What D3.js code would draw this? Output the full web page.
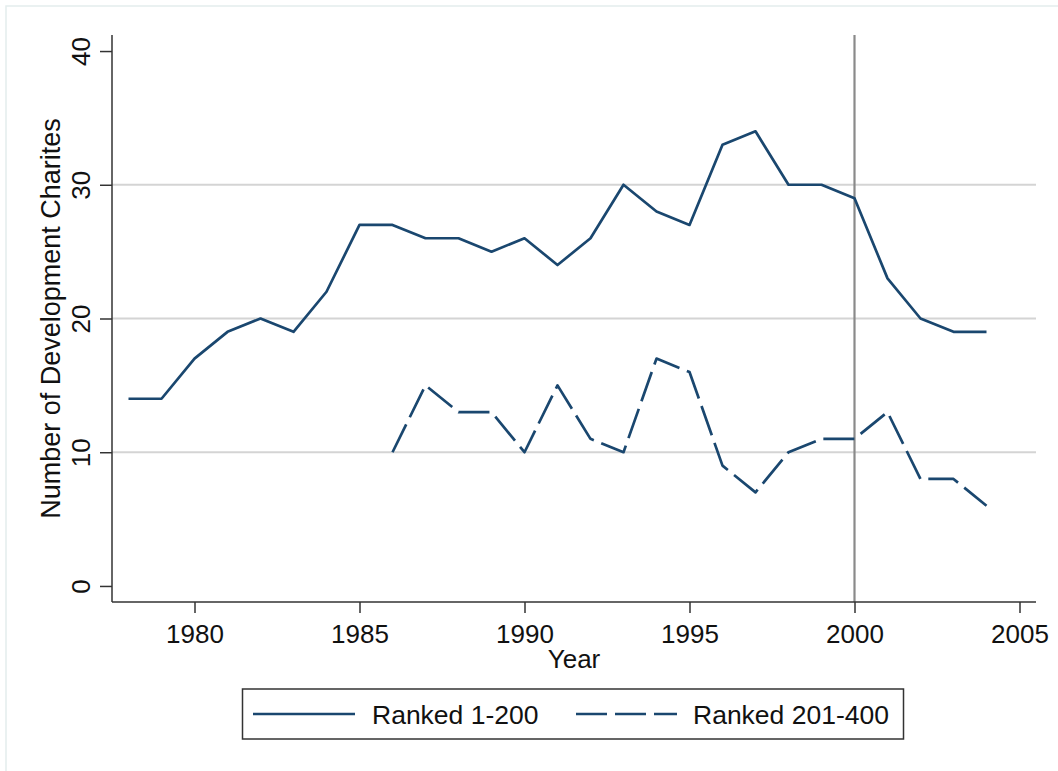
<!DOCTYPE html>
<meta charset="utf-8">
<title>Development charities by year</title>
<style>
  body { margin: 0; background: #fff; }
  svg { display: block; font-family: "Liberation Sans", Arial, Helvetica, sans-serif; }
  .grid line { stroke: #d4d4d4; stroke-width: 2px; }
  .axis path, .axis line { stroke: #333; stroke-width: 1.5px; }
  .axis text { font-size: 26px; fill: #111; }
  .series { fill: none; stroke: #1a476f; stroke-width: 2.7px; stroke-linejoin: round; }
</style>
<body>
<svg width="1058" height="771"></svg>
<script src="https://cdn.jsdelivr.net/npm/d3@7"></script>
<script>
    // values
    const years = d3.range(1978, 2005);
    const top200 = [14,14,17,19,20,19,22,27,27,26,26,25,26,24,26,30,28,27,33,34,30,30,29,23,20,19,19];
    const years201 = d3.range(1986, 2005);
    const top400 = [10,15,13,13,10,15,11,10,17,16,9,7,10,11,11,13,8,8,6];
    const yTicks = [0, 10, 20, 30, 40];
    const xTicks = [1980, 1985, 1990, 1995, 2000, 2005];
    const gridVals = [10, 20, 30];
    const markYear = 2000;
    const seriesNames = ['Ranked 1-200', 'Ranked 201-400'];

    const svg = d3.select('svg');

    const x = d3.scaleLinear().domain([1977.5, 2005.5]).range([112, 1036]);
    const y = d3.scaleLinear().domain([-1.2, 41.2]).range([602, 35]);

    // faint outer frame (top and left edge only, as in the picture)
    svg.append('path')
        .attr('d', 'M6,771V6H1058')
        .attr('fill', 'none')
        .attr('stroke', '#e4eded')
        .attr('stroke-width', 1.5);

    svg.append('g').attr('class', 'grid')
        .selectAll('line')
        .data(gridVals)
        .enter().append('line')
        .attr('x1', x.range()[0]).attr('x2', x.range()[1])
        .attr('y1', d => y(d)).attr('y2', d => y(d));

    // reference line at 2000
    svg.append('line')
        .attr('x1', x(markYear)).attr('x2', x(markYear))
        .attr('y1', y.range()[1]).attr('y2', y.range()[0])
        .attr('stroke', '#8a8a8a')
        .attr('stroke-width', 2.2);

    const line = d3.line().x(d => x(d[0])).y(d => y(d[1]));

    svg.append('path').attr('class', 'series')
        .attr('d', line(years.map((yr, i) => [yr, top200[i]])));

    svg.append('path').attr('class', 'series')
        .attr('stroke-dasharray', '31,8')
        .attr('d', line(years201.map((yr, i) => [yr, top400[i]])));

    // axes
    const yAxis = d3.axisLeft(y).tickValues(yTicks).tickSize(12).tickPadding(10);
    const gy = svg.append('g').attr('class', 'axis')
        .attr('transform', `translate(${x.range()[0]},0)`)
        .call(yAxis);
    gy.select('.domain').attr('d', `M0,${y.range()[1]}V${y.range()[0]}`);
    gy.selectAll('.tick text')
        .attr('transform', 'rotate(-90)')
        .attr('x', 0).attr('y', -22)
        .attr('dy', 0)
        .attr('text-anchor', 'middle');

    const xAxis = d3.axisBottom(x).tickValues(xTicks).tickFormat(d3.format('d')).tickSize(11).tickPadding(6);
    const gx = svg.append('g').attr('class', 'axis')
        .attr('transform', `translate(0,${y.range()[0]})`)
        .call(xAxis);
    gx.select('.domain').attr('d', `M${x.range()[0]},0H${x.range()[1]}`);
    gx.selectAll('.tick text').attr('dy', 0).attr('y', 41);

    // axis titles
    svg.append('text')
        .attr('transform', `translate(60,${(y.range()[0] + y.range()[1]) / 2}) rotate(-90)`)
        .attr('text-anchor', 'middle')
        .attr('font-size', 27)
        .attr('fill', '#111')
        .text('Number of Development Charites');

    svg.append('text')
        .attr('x', (x.range()[0] + x.range()[1]) / 2)
        .attr('y', 668)
        .attr('text-anchor', 'middle')
        .attr('font-size', 26)
        .attr('fill', '#111')
        .text('Year');

    // legend
    const legend = svg.append('g');
    legend.append('rect')
        .attr('x', 242.5).attr('y', 689)
        .attr('width', 661).attr('height', 50)
        .attr('fill', '#fff')
        .attr('stroke', '#333')
        .attr('stroke-width', 1.5);

    const legendItems = [
        {name: seriesNames[0], x0: 253, x1: 355, tx: 372, dash: null},
        {name: seriesNames[1], x0: 576, x1: 677, tx: 693, dash: '31,8'}
    ];
    legendItems.forEach(it => {
        legend.append('line')
            .attr('class', 'series')
            .attr('x1', it.x0).attr('x2', it.x1)
            .attr('y1', 714).attr('y2', 714)
            .attr('stroke-dasharray', it.dash);
        legend.append('text')
            .attr('x', it.tx).attr('y', 723.5)
            .attr('font-size', 26.5)
            .attr('fill', '#111')
            .text(it.name);
    });
</script>
</body>
